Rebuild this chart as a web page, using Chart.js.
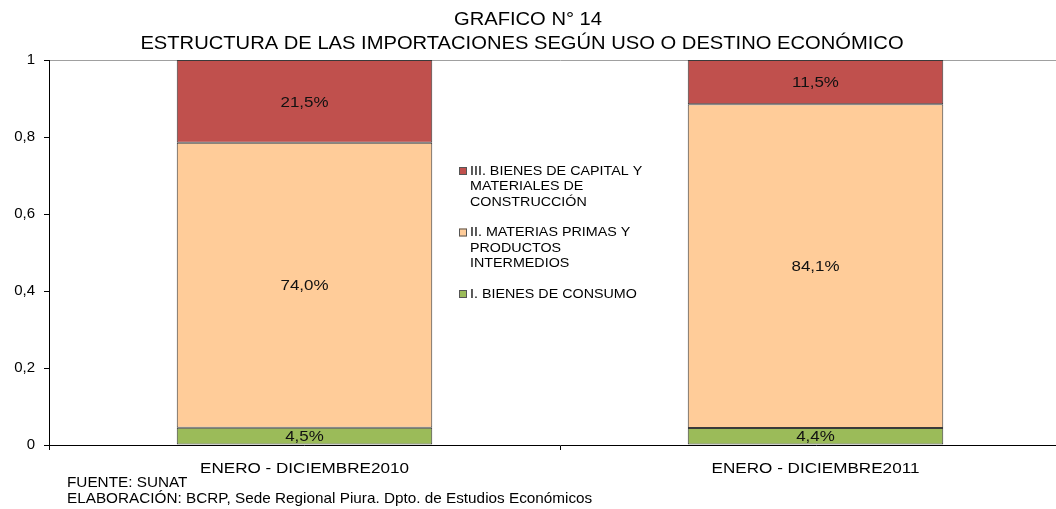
<!DOCTYPE html>
<html>
<head>
<meta charset="utf-8">
<script src="https://cdn.jsdelivr.net/npm/chart.js@4.4.1/dist/chart.umd.min.js"></script>
<style>
  html, body { margin: 0; padding: 0; overflow: hidden; background: #fff; }
  #wrap { width: 1086px; height: 509px; }
</style>
</head>
<body>
<div id="wrap"><canvas id="myChart" width="1086" height="509"></canvas></div>
<script>
// data
const periods = ['ENERO - DICIEMBRE2010', 'ENERO - DICIEMBRE2011'];
const consumo = [0.045, 0.044];    // I. Bienes de consumo
const materias = [0.740, 0.841];   // II. Materias primas y productos intermedios
const capital = [0.215, 0.115];    // III. Bienes de capital y materiales de construccion
const yTicks = [0, 0.2, 0.4, 0.6, 0.8, 1];

const titleLines = ['GRAFICO N° 14', 'ESTRUCTURA DE LAS IMPORTACIONES SEGÚN USO O DESTINO ECONÓMICO'];
const footLines = ['FUENTE: SUNAT', 'ELABORACIÓN: BCRP, Sede Regional Piura. Dpto. de Estudios Económicos'];

const FONT = "'Liberation Sans', Arial, sans-serif";
const colors = { consumo: '#9BBB59', materias: '#FFCC99', capital: '#C0504D' };

const legendItems = [
  { lines: ['III. BIENES DE CAPITAL Y', 'MATERIALES DE', 'CONSTRUCCIÓN'], color: colors.capital },
  { lines: ['II. MATERIAS PRIMAS Y', 'PRODUCTOS', 'INTERMEDIOS'], color: colors.materias },
  { lines: ['I. BIENES DE CONSUMO'], color: colors.consumo }
];

const pct = v => (v * 100).toFixed(1).replace('.', ',') + '%';

// the original text looks a bit stretched sideways
function wideText(ctx, text, x, y, sx) {
  ctx.save();
  ctx.translate(x, y);
  ctx.scale(sx, 1);
  ctx.fillText(text, 0, 0);
  ctx.restore();
}

// title, legend, footnotes, category labels and bar labels
const decorations = {
  id: 'decorations',
  afterDraw(chart) {
    const ctx = chart.ctx;
    ctx.save();
    ctx.fillStyle = '#000';
    ctx.textAlign = 'center';
    ctx.textBaseline = 'middle';
    ctx.font = '18px ' + FONT;
    wideText(ctx, titleLines[0], 528, 20, 1.12);
    wideText(ctx, titleLines[1], 522, 44, 1.12);

    // category labels under the axis
    ctx.font = '15px ' + FONT;
    const xs = chart.scales.x;
    periods.forEach((p, i) => {
      wideText(ctx, p, xs.getPixelForTick(i), 469, 1.14);
    });

    // labels inside segments
    chart.data.datasets.forEach((ds, i) => {
      const meta = chart.getDatasetMeta(i);
      meta.data.forEach((bar, j) => {
        const y = (bar.y + bar.base) / 2;
        ctx.fillStyle = '#111';
        wideText(ctx, pct(ds.data[j]), bar.x, y + 1, 1.13);
      });
    });

    // legend
    ctx.textAlign = 'left';
    ctx.font = '13px ' + FONT;
    let y = 171;
    legendItems.forEach(item => {
      ctx.fillStyle = item.color;
      ctx.fillRect(459, y - 4, 8, 8);
      ctx.strokeStyle = '#555';
      ctx.lineWidth = 1;
      ctx.strokeRect(459.5, y - 3.5, 7, 7);
      ctx.fillStyle = '#000';
      item.lines.forEach((line, k) => {
        wideText(ctx, line, 470, y + k * 15.5, 1.1);
      });
      y += item.lines.length * 15.5 + 15;
    });

    // footnotes
    ctx.font = '15px ' + FONT;
    wideText(ctx, footLines[0], 67, 483, 1.02);
    wideText(ctx, footLines[1], 67, 499, 1.02);
    ctx.restore();
  }
};

new Chart(document.getElementById('myChart'), {
  type: 'bar',
  data: {
    labels: periods,
    datasets: [
      { label: 'I. BIENES DE CONSUMO', data: consumo, backgroundColor: colors.consumo },
      { label: 'II. MATERIAS PRIMAS Y PRODUCTOS INTERMEDIOS', data: materias, backgroundColor: colors.materias },
      { label: 'III. BIENES DE CAPITAL Y MATERIALES DE CONSTRUCCIÓN', data: capital, backgroundColor: colors.capital }
    ]
  },
  options: {
    responsive: false,
    animation: false,
    devicePixelRatio: 1,
    layout: { padding: { top: 60, right: 15, left: 0, bottom: 0 } },
    datasets: {
      bar: {
        categoryPercentage: 1,
        barPercentage: 0.5,
        borderColor: '#3a3a3a',
        borderWidth: 1,
        borderSkipped: false
      }
    },
    plugins: {
      legend: { display: false },
      tooltip: { enabled: false }
    },
    scales: {
      x: {
        stacked: true,
        afterFit: s => { s.height = 64; },
        grid: { drawOnChartArea: false, tickLength: 5, color: '#000', offset: true },
        border: { color: '#000', width: 1 },
        ticks: { display: false }
      },
      y: {
        stacked: true,
        min: 0,
        max: 1,
        afterFit: s => { s.width = 49; },
        afterBuildTicks: s => { s.ticks = yTicks.map(v => ({ value: v })); },
        grid: {
          drawOnChartArea: true,
          tickLength: 5,
          color: c => (c.tick && c.tick.value === 1) ? '#a0a0a0' : 'rgba(0,0,0,0)',
          tickColor: '#000'
        },
        border: { color: '#000', width: 1 },
        ticks: {
          color: '#000',
          padding: 9,
          font: { family: FONT, size: 15 },
          callback: v => String(v).replace('.', ',')
        }
      }
    }
  },
  plugins: [decorations]
});
</script>
</body>
</html>
